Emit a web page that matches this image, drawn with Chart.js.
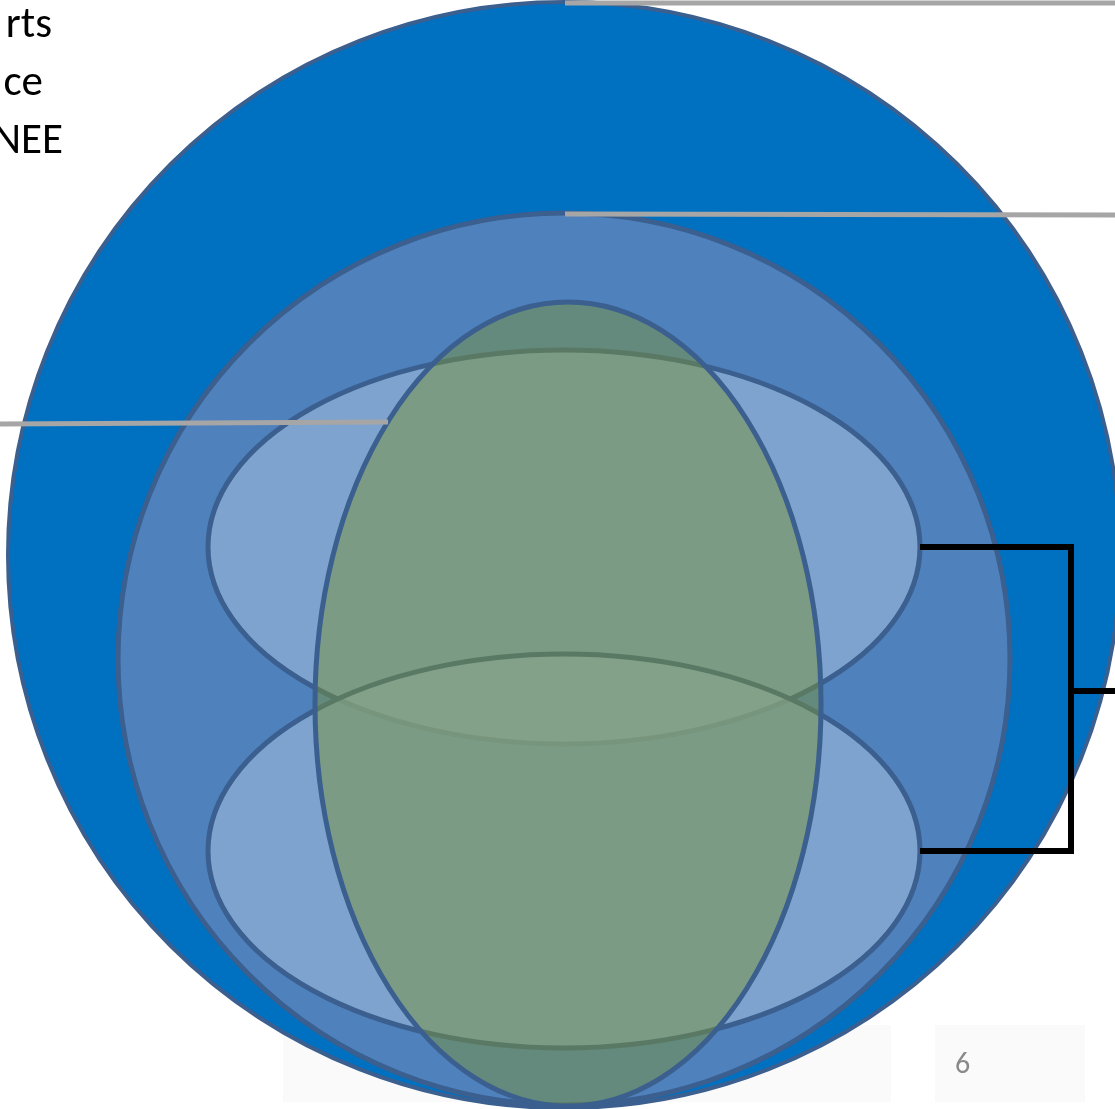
<!DOCTYPE html>
<html>
<head>
<meta charset="utf-8">
<script src="https://cdn.jsdelivr.net/npm/chart.js@4/dist/chart.umd.min.js"></script>
<style>
  html, body { margin: 0; padding: 0; background: #fff; overflow: hidden; }
  #wrap { position: relative; width: 1115px; height: 1109px; overflow: hidden; }
  #diagram { position: absolute; left: 0; top: 0; }
  .label { position: absolute; font-family: Carlito, Lato, sans-serif; white-space: nowrap; }
  .side { font-size: 43px; line-height: 58px; color: #000; text-align: right; }
  .page { font-size: 30px; line-height: 30px; color: #898989; }
</style>
</head>
<body>
<div id="wrap">
  <canvas id="diagram" width="1115" height="1109"></canvas>
  <div class="label side" style="right:1063px; top:-6px;">rts</div>
  <div class="label side" style="right:1072px; top:52px;">ce</div>
  <div class="label side" style="right:1052px; top:110px;">NEE</div>
  <div class="label page" style="left:955px; top:1048px;">6</div>
</div>
<script>
// ellipses, back to front: outer circle, inner circle, two flat ellipses, tall core
const shapeNames = ['outer', 'inner', 'upper', 'lower', 'core'];
const centerX = [564, 564, 564, 564, 568];
const centerY = [555, 659, 547, 851, 704];
const radiusX = [556, 446, 356, 356, 253];
const radiusY = [553, 446, 197, 197, 402];

// footer placeholders [x0, y0, x1, y1]
const footerBoxes = [[283, 1025, 891, 1102], [935, 1025, 1085, 1102]];

// leader lines and bracket
const leaderTop = [{ x: 565, y: 3 }, { x: 1115, y: 3 }];
const leaderMid = [{ x: 565, y: 214 }, { x: 1115, y: 215 }];
const leaderLeft = [{ x: 0, y: 424 }, { x: 388, y: 422 }];
const bracket = [{ x: 920, y: 547 }, { x: 1071, y: 547 }, { x: 1071, y: 851 }, { x: 920, y: 851 }];
const bracketStub = [{ x: 1071, y: 691 }, { x: 1115, y: 691 }];

const fills = {
  outer: '#0070C0',
  inner: '#4F81BD',
  upper: 'rgba(150,181,216,0.66)',
  lower: 'rgba(150,181,216,0.66)',
  core: 'rgba(119,147,60,0.5)',
};
const edge = '#3B5F8E';

const shapesPlugin = {
  id: 'shapes',
  beforeDatasetsDraw(chart) {
    const { ctx, scales: { x, y } } = chart;
    ctx.save();
    ctx.fillStyle = '#FAFAFA';
    footerBoxes.forEach(b => {
      const x0 = x.getPixelForValue(b[0]), y0 = y.getPixelForValue(b[1]);
      ctx.fillRect(x0, y0, x.getPixelForValue(b[2]) - x0, y.getPixelForValue(b[3]) - y0);
    });
    shapeNames.forEach((name, i) => {
      const cx = x.getPixelForValue(centerX[i]);
      const cy = y.getPixelForValue(centerY[i]);
      const rx = Math.abs(x.getPixelForValue(centerX[i] + radiusX[i]) - cx);
      const ry = Math.abs(y.getPixelForValue(centerY[i] + radiusY[i]) - cy);
      ctx.beginPath();
      ctx.ellipse(cx, cy, rx, ry, 0, 0, Math.PI * 2);
      ctx.fillStyle = fills[name];
      ctx.fill();
      ctx.lineWidth = name === 'outer' ? 4 : 5;
      ctx.strokeStyle = edge;
      ctx.stroke();
    });
    ctx.restore();
  },
};

function segment(data, color, width) {
  return {
    data,
    showLine: true,
    borderColor: color,
    borderWidth: width,
    pointRadius: 0,
    borderJoinStyle: 'miter',
    borderCapStyle: 'butt',
    clip: false,
  };
}

new Chart(document.getElementById('diagram'), {
  type: 'scatter',
  data: {
    datasets: [
      segment(leaderTop, '#A6A6A6', 5),
      segment(leaderMid, '#A6A6A6', 5),
      segment(leaderLeft, '#A6A6A6', 5),
      segment(bracket, '#000000', 6),
      segment(bracketStub, '#000000', 6),
    ],
  },
  options: {
    responsive: false,
    animation: false,
    devicePixelRatio: 1,
    layout: { padding: 0 },
    events: [],
    scales: {
      x: { type: 'linear', min: 0, max: 1115, display: false },
      y: { type: 'linear', min: 0, max: 1109, reverse: true, display: false },
    },
    plugins: {
      legend: { display: false },
      tooltip: { enabled: false },
    },
  },
  plugins: [shapesPlugin],
});
</script>
</body>
</html>
